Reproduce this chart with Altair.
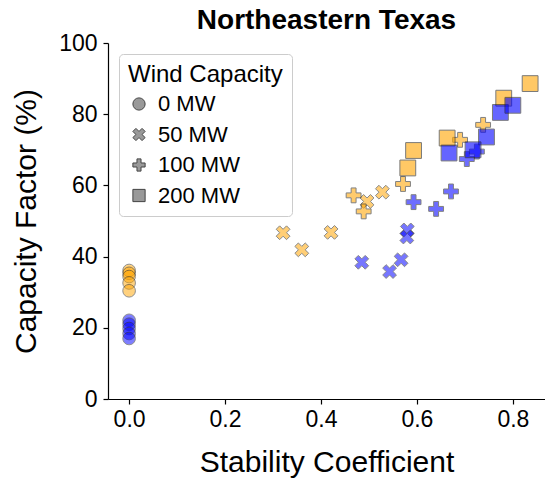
import altair as alt
import pandas as pd

capacities = ["0 MW", "50 MW", "100 MW", "200 MW"]
capacity_mw = [0, 50, 100, 200]

# orange series
orange_sc_0 = [0.0, 0.0, 0.0, 0.0, 0.0]
orange_cf_0 = [36.1, 35.3, 34.4, 32.6, 30.4]
orange_sc_50 = [0.321, 0.360, 0.421, 0.496, 0.528]
orange_cf_50 = [46.7, 41.9, 46.8, 55.5, 58.1]
orange_sc_100 = [0.468, 0.489, 0.571, 0.690, 0.738]
orange_cf_100 = [57.2, 52.7, 60.4, 72.8, 77.0]
orange_sc_200 = [0.593, 0.581, 0.663, 0.781, 0.836]
orange_cf_200 = [69.8, 64.9, 73.3, 84.5, 88.6]

# blue series
blue_sc_0 = [0.0, 0.0, 0.0, 0.0, 0.0]
blue_cf_0 = [22.1, 21.0, 19.8, 18.4, 17.0]
blue_sc_50 = [0.485, 0.543, 0.567, 0.580, 0.579]
blue_cf_50 = [38.4, 35.8, 39.1, 47.5, 45.5]
blue_sc_100 = [0.593, 0.640, 0.671, 0.704, 0.725]
blue_cf_100 = [55.3, 53.4, 58.3, 67.4, 69.5]
blue_sc_200 = [0.667, 0.745, 0.717, 0.774, 0.800]
blue_cf_200 = [69.1, 73.6, 70.0, 80.5, 82.5]

series = {
    "orange": [(orange_sc_0, orange_cf_0), (orange_sc_50, orange_cf_50),
               (orange_sc_100, orange_cf_100), (orange_sc_200, orange_cf_200)],
    "blue": [(blue_sc_0, blue_cf_0), (blue_sc_50, blue_cf_50),
             (blue_sc_100, blue_cf_100), (blue_sc_200, blue_cf_200)],
}

rows = []
order = 0
for g, lists in series.items():
    for cap, mw, (xs, ys) in zip(capacities, capacity_mw, lists):
        for x, y in zip(xs, ys):
            rows.append({"group": g, "cap": cap, "mw": mw, "sc": x, "cf": y, "order": order})
            order += 1
df = pd.DataFrame(rows)

X_PATH = "M-0.5,-1L0,-0.5L0.5,-1L1,-0.5L0.5,0L1,0.5L0.5,1L0,0.5L-0.5,1L-1,0.5L-0.5,0L-1,-0.5Z"
P_PATH = "M-1,-0.33L-0.33,-0.33L-0.33,-1L0.33,-1L0.33,-0.33L1,-0.33L1,0.33L0.33,0.33L0.33,1L-0.33,1L-0.33,0.33L-1,0.33Z"

FONT = "Liberation Sans"

chart = alt.Chart(df).mark_point(filled=True, stroke="#222222", strokeWidth=1).encode(
    x=alt.X("sc:Q", title="Stability Coefficient",
            scale=alt.Scale(domain=[-0.044, 0.867], nice=False, zero=False),
            axis=alt.Axis(values=[0, 0.2, 0.4, 0.6, 0.8], format=".1f")),
    y=alt.Y("cf:Q", title="Capacity Factor (%)",
            scale=alt.Scale(domain=[0, 100], nice=False),
            axis=alt.Axis(values=[0, 20, 40, 60, 80, 100], format="d")),
    color=alt.Color("group:N", scale=alt.Scale(domain=["orange", "blue"], range=["#FFA500", "#0000FF"]),
                    legend=None),
    shape=alt.Shape("cap:N", title="Wind Capacity", sort=capacities,
                    scale=alt.Scale(domain=capacities, range=["circle", X_PATH, P_PATH, "square"]),
                    legend=alt.Legend(orient="top-left", offset=11,
                                      fillColor="white", strokeColor="#cccccc", cornerRadius=4,
                                      padding=9, titleFontSize=24, labelFontSize=22,
                                      titleFont=FONT, labelFont=FONT, titleFontWeight="normal",
                                      titleColor="black", labelColor="black",
                                      symbolFillColor="#999999", symbolStrokeColor="#444444",
                                      symbolStrokeWidth=1, symbolSize=150, symbolOpacity=1,
                                      rowPadding=8.5, labelOffset=8, titlePadding=6)),
    size=alt.Size("mw:O", scale=alt.Scale(domain=capacity_mw, range=[160, 250, 250, 190]), legend=None),
    opacity=alt.Opacity("mw:O", scale=alt.Scale(domain=capacity_mw, range=[0.5, 0.6, 0.65, 0.75]),
                        legend=None),
    order=alt.Order("order:Q"),
).properties(
    width=437, height=356,
    title=alt.Title("Northeastern Texas", fontSize=28, fontWeight="bold", font=FONT,
                    color="black", anchor="middle", offset=-3, frame="group"),
    autosize=alt.AutoSizeParams(type="none"),
    padding={"left": 108, "top": 43, "right": 0, "bottom": 81},
).configure_view(stroke=None).configure_axis(
    grid=False, domainColor="black", domainWidth=1.2, tickColor="black", tickWidth=1.2, tickSize=5,
    labelFont=FONT, labelFontSize=23, labelColor="black", labelPadding=4,
    titleFont=FONT, titleFontSize=30, titleFontWeight="normal", titleColor="black",
).configure_axisX(titlePadding=16).configure_axisY(titlePadding=17, labelPadding=6)

chart.save("out.html", embed_options={"renderer": "svg", "actions": False})
